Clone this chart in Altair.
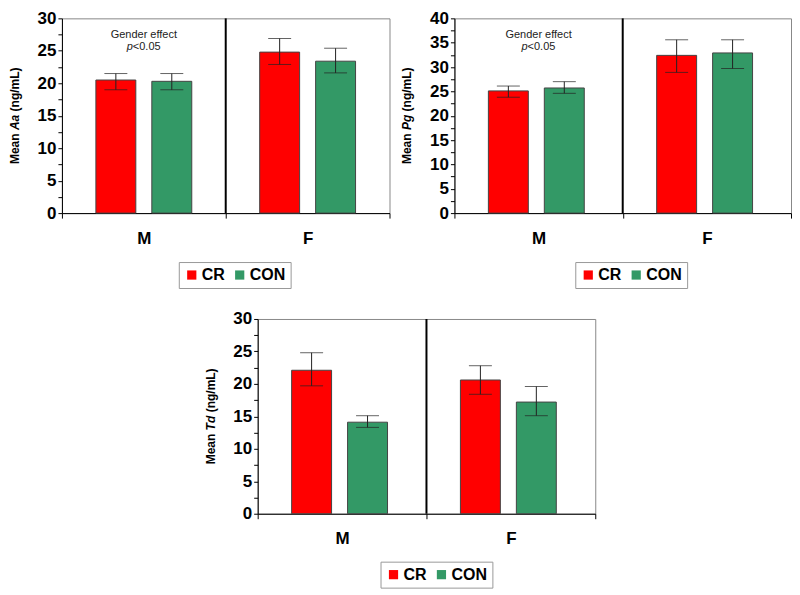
import altair as alt
import pandas as pd

GENDERS = ["M", "F"]
GROUPS = ["CR", "CON"]
COLORS = ["#FF0000", "#339966"]

# order: M-CR, M-CON, F-CR, F-CON
AA_MEAN = [20.5, 20.3, 24.8, 23.4]
AA_LO = [19.0, 19.0, 22.9, 21.6]
AA_HI = [21.5, 21.5, 26.9, 25.4]

PG_MEAN = [25.1, 25.7, 32.4, 32.9]
PG_LO = [23.8, 24.6, 28.9, 29.7]
PG_HI = [26.1, 27.0, 35.6, 35.6]

TD_MEAN = [22.1, 14.1, 20.6, 17.2]
TD_LO = [19.7, 13.3, 18.4, 15.1]
TD_HI = [24.8, 15.1, 22.8, 19.6]

FONT = "Liberation Sans, Arial, Helvetica, sans-serif"
NARROW = "'Liberation Sans Narrow', 'Arial Narrow', Liberation Sans, Arial, sans-serif"


def panel(mean, lo, hi, ymax, name, name_w, width, height, note, legend_x, legend_y):
    df = pd.DataFrame({
        "gender": [g for g in GENDERS for _ in GROUPS],
        "group": GROUPS * len(GENDERS),
        "mean": mean, "lo": lo, "hi": hi,
    })
    xscale = alt.Scale(paddingInner=0, paddingOuter=0)
    xaxis = alt.Axis(title=None, labelAngle=0, tickBand="extent",
                     labelFont=FONT, labelFontSize=17, labelFontWeight="bold",
                     labelColor="black", tickColor="black", domainColor="black",
                     tickSize=5, labelPadding=12, grid=False)
    xenc = alt.X("gender:N", sort=GENDERS, scale=xscale, axis=xaxis)
    xoff = alt.XOffset("group:N", sort=GROUPS,
                       scale=alt.Scale(paddingInner=0.286, paddingOuter=0.607))
    vals = [i * 2.5 for i in range(int(ymax / 2.5) + 1)]
    yscale = alt.Scale(domain=[0, ymax], nice=False)
    yaxis = alt.Axis(title=None, values=vals, labelOverlap=False,
                     labelExpr="datum.value % 5 == 0 ? datum.label : ''",
                     labelFont=FONT, labelFontSize=17, labelFontWeight="bold",
                     labelColor="black", tickColor="black", domainColor="black",
                     tickSize=4, labelPadding=2, grid=False)

    def Y(f):
        return alt.Y(f, type="quantitative", scale=yscale, axis=yaxis)

    base = alt.Chart(df)
    bars = base.mark_bar(stroke="#444", strokeWidth=1).encode(
        x=xenc, xOffset=xoff, y=Y("mean"),
        color=alt.Color("group:N", sort=GROUPS,
                        scale=alt.Scale(domain=GROUPS, range=COLORS),
                        legend=alt.Legend(orient="none", legendX=legend_x, legendY=legend_y,
                                          direction="horizontal", title=None,
                                          symbolType="square", symbolSize=85,
                                          symbolStrokeWidth=0,
                                          labelFont=NARROW, labelFontSize=16,
                                          labelFontWeight="bold", labelColor="black",
                                          strokeColor="#999", fillColor="white",
                                          padding=5, columnPadding=6, labelOffset=2)))
    err = base.mark_rule(color="#222", strokeWidth=1).encode(
        x=xenc, xOffset=xoff, y=Y("lo"), y2="hi:Q")
    cap_lo = base.mark_tick(orient="horizontal", size=23, thickness=1, color="#222").encode(
        x=xenc, xOffset=xoff, y=Y("lo"))
    cap_hi = base.mark_tick(orient="horizontal", size=23, thickness=1, color="#222").encode(
        x=xenc, xOffset=xoff, y=Y("hi"))

    div_df = pd.DataFrame({"gender": [GENDERS[1]], "a": [0], "b": [ymax]})
    divider = alt.Chart(div_df).mark_rule(color="black", strokeWidth=2).encode(
        x=alt.X("gender:N", sort=GENDERS, scale=xscale, axis=xaxis, bandPosition=0),
        y=Y("a"), y2="b:Q")

    layers = [bars, err, cap_lo, cap_hi, divider]

    # y-axis title with italic analyte name
    fs = 12
    w1, sp, w3 = 34.0, 3.4, 44.0
    total = w1 + name_w + sp + w3
    y0 = height / 2 + total / 2
    tdf = pd.DataFrame({"t": [0]})
    tx = -47
    for txt, yy, style in [("Mean", y0, "normal"), (name, y0 - w1, "italic"),
                           ("(ng/mL)", y0 - w1 - name_w - sp, "normal")]:
        layers.append(alt.Chart(tdf).mark_text(
            text=txt, angle=270, align="left", baseline="middle", font=FONT,
            fontSize=fs, fontWeight="bold", fontStyle=style, color="black").encode(
            x=alt.value(tx), y=alt.value(yy)))

    if note:
        ndf = pd.DataFrame({"gender": [GENDERS[0]]})
        nx = alt.X("gender:N", sort=GENDERS, scale=xscale, axis=xaxis)
        layers.append(alt.Chart(ndf).mark_text(
            text="Gender effect", font=FONT, fontSize=11, color="#222",
            baseline="middle").encode(x=nx, y=alt.value(17)))
        layers.append(alt.Chart(ndf).mark_text(
            text="p", font=FONT, fontSize=11, fontStyle="italic", color="#222",
            align="right", dx=-11, baseline="middle").encode(x=nx, y=alt.value(29)))
        layers.append(alt.Chart(ndf).mark_text(
            text="<0.05", font=FONT, fontSize=11, color="#222",
            align="left", dx=-11, baseline="middle").encode(x=nx, y=alt.value(29)))

    return alt.layer(*layers).properties(width=width, height=height)


p1 = panel(AA_MEAN, AA_LO, AA_HI, 30, "Aa", 15.3, 328, 195, True, 117, 244)
p2 = panel(PG_MEAN, PG_LO, PG_HI, 40, "Pg", 15.3, 337, 195, True, 121, 244)
p3 = panel(TD_MEAN, TD_LO, TD_HI, 30, "Td", 14.7, 338, 195, False, 123, 243)

top = alt.hconcat(p1, p2, spacing=10).resolve_scale(color="independent").resolve_legend(color="independent")
chart = alt.vconcat(top, p3, spacing=20, center=True).resolve_scale(
    color="independent").resolve_legend(color="independent").properties(
    padding=0, background="white").configure_view(stroke="#888", strokeWidth=1)

chart.save("out.html", embed_options={"renderer": "svg", "actions": False})
